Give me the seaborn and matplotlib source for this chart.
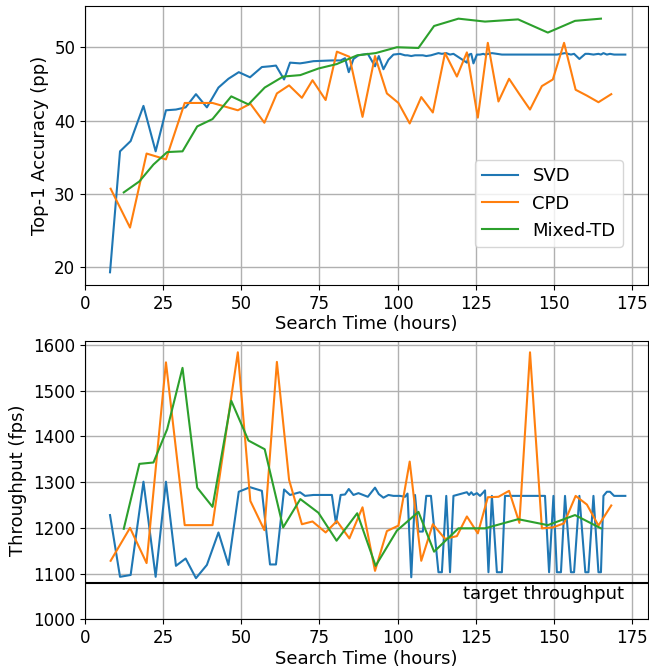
import matplotlib
matplotlib.use("Agg")
import matplotlib.pyplot as plt
from matplotlib.ticker import MultipleLocator
import seaborn as sns

# search time (hours) per sampled configuration
svd_t = [8.0, 11.2, 14.6, 18.7, 22.6, 25.9, 29.1, 32.2, 35.5, 39.0, 42.7, 45.9, 49.2, 52.8, 56.6,
         59.2, 61.1, 63.7, 65.6, 68.8, 70.4, 73.1, 79.0, 80.3, 81.8, 83.2, 84.4, 85.9, 87.5, 90.5,
         92.8, 94.0, 95.5, 97.1, 98.7, 100.8, 102.4, 103.2, 104.4, 105.6, 106.7, 108.1, 109.2, 110.7,
         113.1, 114.2, 115.6, 116.8, 117.9, 122.2, 122.9, 123.6, 124.3, 125.4, 126.4, 127.5, 128.0,
         129.1, 130.2, 131.8, 133.4, 134.4, 147.2, 148.5, 149.9, 151.0, 152.3, 153.6, 155.5, 156.5,
         158.2, 160.1, 161.1, 162.7, 164.3, 165.1, 165.9, 167.0, 168.0, 169.3, 172.9]
svd_acc = [19.3, 35.8, 37.2, 42.0, 35.8, 41.4, 41.5, 41.8, 43.6, 41.8, 44.5, 45.7, 46.6, 45.9, 47.3,
           47.4, 47.5, 45.6, 47.9, 47.8, 47.9, 48.1, 48.2, 48.2, 48.2, 48.5, 46.6, 48.4, 48.9, 49.1,
           47.4, 48.8, 47.0, 48.3, 49.0, 49.1, 48.9, 48.9, 48.8, 48.9, 48.9, 48.9, 48.8, 48.9,
           49.2, 49.1, 49.2, 49.0, 49.1, 47.9, 49.0, 49.1, 47.8, 49.0, 49.0, 49.1, 49.0,
           49.1, 49.2, 49.1, 49.0, 49.0, 49.0, 49.0, 49.0, 49.0, 49.1, 49.2, 49.0, 49.1,
           48.4, 49.1, 49.1, 49.0, 49.1, 49.0, 49.2, 49.0, 49.1, 49.0, 49.0]
svd_fps = [1228, 1093, 1097, 1301, 1093, 1301, 1117, 1133, 1090, 1119, 1190, 1119, 1279, 1289, 1281,
           1120, 1120, 1284, 1272, 1278, 1270, 1272, 1272, 1210, 1272, 1273, 1285, 1272, 1276, 1268,
           1288, 1274, 1266, 1272, 1270, 1270, 1268, 1275, 1092, 1272, 1192, 1192, 1270, 1270,
           1103, 1103, 1270, 1103, 1270, 1278, 1272, 1278, 1272, 1276, 1270, 1278, 1282,
           1103, 1270, 1103, 1103, 1270, 1270, 1103, 1270, 1103, 1103, 1270, 1103, 1103,
           1270, 1103, 1103, 1270, 1103, 1103, 1270, 1279, 1279, 1270, 1270]

cpd_t = [8.2, 14.4, 19.7, 25.9, 31.9, 40.8, 48.9, 52.9, 57.4, 61.4, 65.3, 69.4, 72.8, 77.0, 80.6,
         84.6, 88.8, 92.8, 96.6, 100.3, 103.9, 107.6, 111.3, 115.2, 119.0, 122.2, 125.7, 128.9,
         132.3, 135.7, 139.0, 142.4, 146.2, 149.7, 153.3, 157.0, 160.6, 164.3, 168.4]
cpd_acc = [30.7, 25.4, 35.5, 34.7, 42.4, 42.4, 41.4, 42.3, 39.7, 43.7, 44.8, 43.1, 45.5, 42.8, 49.4,
           48.7, 40.5, 48.8, 43.7, 42.4, 39.6, 43.2, 41.1, 49.2, 46.0, 49.3, 40.4, 50.6,
           42.6, 45.7, 43.6, 41.5, 44.7, 45.6, 50.6, 44.2, 43.4, 42.5, 43.6]
cpd_fps = [1128, 1200, 1123, 1562, 1206, 1206, 1584, 1259, 1195, 1563, 1305, 1208, 1214, 1190, 1215,
           1177, 1245, 1106, 1193, 1205, 1345, 1128, 1208, 1176, 1182, 1225, 1188, 1267,
           1268, 1281, 1211, 1584, 1199, 1201, 1210, 1270, 1251, 1205, 1249]

mix_t = [12.4, 17.4, 21.9, 26.3, 31.2, 35.9, 40.8, 46.8, 52.3, 57.5, 63.4, 68.9, 74.7, 80.5, 87.1,
         93.0, 99.8, 106.7, 111.7, 119.5, 128.0, 138.6, 148.1, 156.8, 165.1]
mix_acc = [30.2, 31.7, 34.0, 35.7, 35.8, 39.2, 40.2, 43.3, 42.2, 44.5, 46.0, 46.2, 47.1, 47.7, 48.9,
           49.2, 50.0, 49.9, 52.9, 53.9, 53.5, 53.8, 52.0, 53.6, 53.9]
mix_fps = [1198, 1340, 1343, 1416, 1550, 1288, 1246, 1478, 1391, 1372, 1201, 1263, 1233, 1172, 1232,
           1117, 1194, 1235, 1148, 1199, 1199, 1219, 1206, 1228, 1199]

target_fps = 1080

series = [
    ("SVD", svd_t, svd_acc, svd_fps, "C0"),
    ("CPD", cpd_t, cpd_acc, cpd_fps, "C1"),
    ("Mixed-TD", mix_t, mix_acc, mix_fps, "C2"),
]

plt.rcParams["font.size"] = 12
fig = plt.figure(figsize=(6.49, 6.71), dpi=100)
ax1 = fig.add_axes([0.131, 0.5753, 0.8667, 0.4158])
ax2 = fig.add_axes([0.131, 0.0770, 0.8667, 0.4148])

for name, t, acc, fps, c in series:
    sns.lineplot(x=t, y=acc, ax=ax1, color=c, label=name, linewidth=1.5)
    sns.lineplot(x=t, y=fps, ax=ax2, color=c, linewidth=1.5, legend=False)

# accuracy panel
ax1.set_xlim(0, 180)
ax1.xaxis.set_major_locator(MultipleLocator(25))
ax1.yaxis.set_major_locator(MultipleLocator(10))
ax1.set_xlabel("Search Time (hours)", fontsize=13, labelpad=2)
ax1.set_ylabel("Top-1 Accuracy (pp)", fontsize=13)
ax1.grid(True, color="#b0b0b0", linewidth=1.0)
ax1.legend(loc="lower right", bbox_to_anchor=(0.956, 0.137), borderaxespad=0, fontsize=13)

# throughput panel
ax2.axhline(target_fps, color="black", linewidth=1.5)
ax2.text(172.5, target_fps - 5, "target throughput", ha="right", va="top", fontsize=13)
ax2.set_xlim(0, 180)
ax2.xaxis.set_major_locator(MultipleLocator(25))
ax2.set_ylim(bottom=1000)
ax2.set_xlabel("Search Time (hours)", fontsize=13, labelpad=2)
ax2.set_ylabel("Throughput (fps)", fontsize=13)
ax2.grid(True, color="#b0b0b0", linewidth=1.0)
if ax2.get_legend() is not None:
    ax2.get_legend().remove()

fig.savefig("out.png", dpi=100)
